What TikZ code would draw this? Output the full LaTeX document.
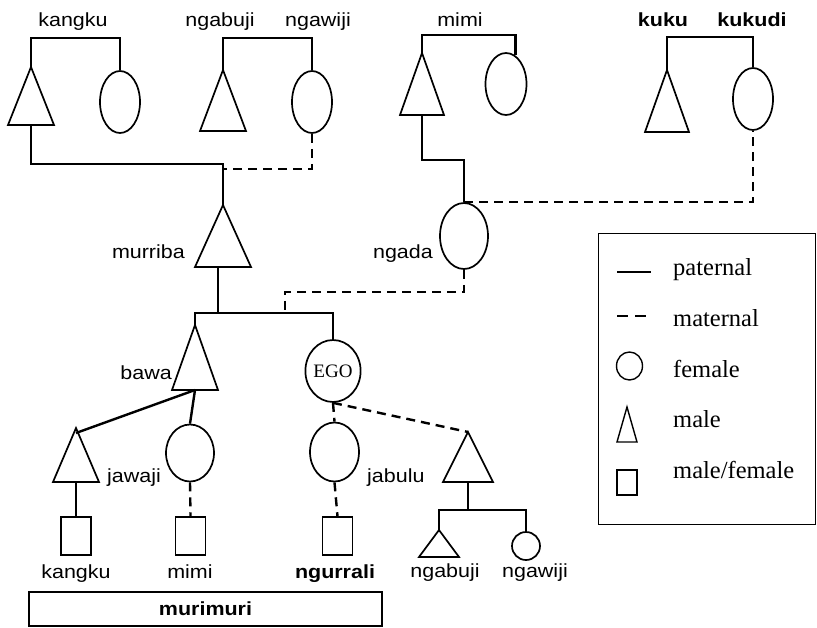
\documentclass[tikz,border=0pt]{standalone}
\usepackage{fontspec}
\setmainfont{Liberation Sans}[FakeStretch=1.13]
\newfontfamily\legfont{Liberation Serif}
\usetikzlibrary{shapes.geometric}
\newcommand\mytri[5]{% name, cx, apex y, base y, half width
  \draw[shp] (#2,#3) -- (#2-#5,#4) -- (#2+#5,#4) -- cycle;
  \coordinate (#1top) at (#2,#3);
  \coordinate (#1bot) at (#2,#4);
}
\tikzset{
  shp/.style={line width=1.7pt, line join=miter},
  fem/.style={draw, ellipse, line width=1.7pt, inner sep=0pt},
  sq/.style={draw, rectangle, line width=1.4pt, inner sep=0pt, minimum width=30pt, minimum height=38pt},
  pat/.style={line width=2.4pt},
  mat/.style={line width=2.4pt, dash pattern=on 9pt off 6pt},
  lab/.style={inner sep=0pt, font=\fontsize{19}{21}\selectfont},
  blab/.style={lab, font=\fontsize{19}{21}\selectfont\bfseries},
  leg/.style={inner sep=0pt, anchor=base west, font=\legfont\fontsize{24.5}{27}\selectfont},
}
\begin{document}
\begin{tikzpicture}[x=1pt, y=-1pt]
\useasboundingbox (0,0) rectangle (817,627);

% ---------- top generation ----------
\mytri{T1}{31}{67}{125}{23}
\node[fem, minimum width=40pt, minimum height=62pt] (E1) at (120,102) {};
\mytri{T2}{223}{70}{131}{23}
\node[fem, minimum width=40pt, minimum height=62pt] (E2) at (312,102) {};
\mytri{T4}{422}{53}{115}{22}
\node[fem, minimum width=41pt, minimum height=62pt] (E3) at (506,84) {};
\mytri{T5}{667}{70}{132}{22}
\node[fem, minimum width=40pt, minimum height=62pt] (E5) at (753,99) {};

\node[lab, anchor=base] (Lkangku) at (73,26) {kangku};
\node[lab, anchor=base] (Lngabuji) at (220,26) {ngabuji};
\node[lab, anchor=base] (Lngawiji) at (318,26) {ngawiji};
\node[lab, anchor=base] (Lmimi) at (460,26) {mimi};
\node[blab, anchor=base] (Lkuku) at (663,26) {kuku};
\node[blab, anchor=base] (Lkukudi) at (752,26) {kukudi};

\draw[pat] (T1top) -- ++(0,-29) -| (E1.north);
\draw[pat] (T2top) -- ++(0,-32) -| (E2.north);
\draw[pat] (T4top) -- ++(0,-18) -| (E3.72);
\draw[pat] (T5top) -- ++(0,-33) -| (E5.north);

% ---------- parents ----------
\mytri{T3}{223}{205}{267}{28}
\node[fem, minimum width=48pt, minimum height=66pt] (E4) at (464,236) {};
\node[lab, anchor=base east] (Lmurriba) at (185,258) {murriba};
\node[lab, anchor=base east] (Lngada) at (433,258) {ngada};

\coordinate (jm1) at (223,169);
\draw[pat] (T1bot) -- ++(0,39) -| (T3top);
\draw[mat] (E2.south) |- (jm1);
\draw[pat] (T4bot) -- ++(0,45) -| (E4.north);
\draw[mat] (E4.north) -| (E5.south);

% ---------- ego generation ----------
\mytri{T6}{195}{325}{390}{23}
\node[fem, minimum width=54pt, minimum height=62pt, font=\legfont\fontsize{19}{20}\selectfont] (EGO) at (333,371) {EGO};
\node[lab, anchor=base east] (Lbawa) at (172,379) {bawa};

\coordinate (jm2) at (285,313);
\draw[pat] ([xshift=-5pt]T3bot) -- ++(0,46);
\draw[pat] (T6top) -- ++(0,-12) -| (EGO.north);
\draw[mat] (E4.south) -- ++(0,22) -| (jm2);

% ---------- children ----------
\mytri{T7}{76}{428}{482}{23}
\node[fem, minimum width=48pt, minimum height=57pt] (E6) at (190,453) {};
\node[fem, minimum width=49pt, minimum height=59pt] (E7) at (334.5,452) {};
\mytri{T8}{468}{432}{482}{25}
\node[lab, anchor=base west] (Ljawaji) at (107,482) {jawaji};
\node[lab, anchor=base west] (Ljabulu) at (367,482) {jabulu};

\draw[pat] (T6bot) -- ([yshift=-5pt]T7top);
\draw[pat] (T6bot) -- (E6.north);
\draw[mat] (EGO.south) -- (E7.north);
\draw[mat] (EGO.south) -- (T8top);

% ---------- grandchildren ----------
\node[sq] (S1) at (76,536) {};
\node[sq] (S2) at (190.5,536) {};
\node[sq] (S3) at (337.5,536) {};
\mytri{T9}{439}{530}{557}{20}
\node[fem, minimum width=28pt, minimum height=28pt] (E8) at (526,546) {};

\draw[pat] (T7bot) -- (S1.north);
\draw[mat] (E6.south) -- (S2.north);
\draw[mat] (E7.south) -- (S3.north);
\draw[pat] (T8bot) -- ++(0,28) coordinate (jm3);
\draw[pat] (T9top) |- (jm3) -| (E8.north);

\node[lab, anchor=base] (Lkangku2) at (76,578) {kangku};
\node[lab, anchor=base] (Lmimi2) at (190,578) {mimi};
\node[blab, anchor=base] (Lngurrali) at (335,578) {ngurrali};
\node[lab, anchor=base] (Lngabuji2) at (445,577) {ngabuji};
\node[lab, anchor=base] (Lngawiji2) at (535,577) {ngawiji};

\node[draw, line width=1.4pt, minimum width=353pt, minimum height=34pt, inner sep=0pt] (murbox) at (205.5,609) {};
\node[blab, anchor=base] (Lmurimuri) at (205.5,615) {murimuri};

% ---------- legend ----------
\node[draw, line width=1.4pt, minimum width=217pt, minimum height=291pt, inner sep=0pt, anchor=north west] (legbox) at (598,233) {};
\coordinate (lp1) at (617,272); \coordinate (lp2) at (651,272);
\draw[line width=2.6pt] (lp1) -- (lp2);
\coordinate (lm1) at (617,316); \coordinate (lm2) at (648,316);
\draw[line width=2.6pt, dash pattern=on 11pt off 7pt] (lm1) -- (lm2);
\node[fem, line width=1.4pt, minimum width=26pt, minimum height=28pt] (lf) at (629.5,366) {};
\draw[line width=1.4pt] (627,407) -- (617,442) -- (637,442) -- cycle;
\node[draw, line width=1.4pt, minimum width=20pt, minimum height=25pt, inner sep=0pt] (lsq) at (627,482.5) {};
\node[leg] at (673,275) {paternal};
\node[leg] at (673,326) {maternal};
\node[leg] at (673,377) {female};
\node[leg] at (673,427) {male};
\node[leg] at (673,478) {male/female};
\end{tikzpicture}
\end{document}
